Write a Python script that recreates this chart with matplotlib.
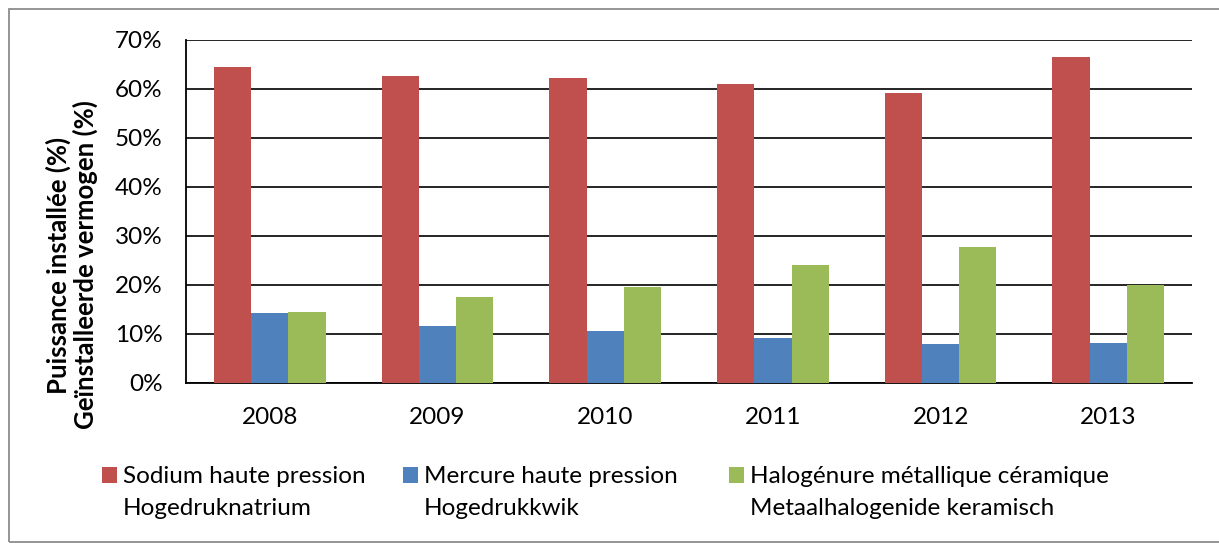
import matplotlib
matplotlib.use('Agg')
import matplotlib.pyplot as plt
import matplotlib.patches as patches
import numpy as np

# Data (% of installed power)
years = ['2008', '2009', '2010', '2011', '2012', '2013']
sodium = [64.5, 62.6, 62.1, 60.9, 59.1, 66.4]
mercure = [14.2, 11.6, 10.5, 9.2, 8.0, 8.2]
halogenure = [14.5, 17.6, 19.5, 24.1, 27.8, 20.0]

# legend labels: French line / Dutch line
labels_fr = ['Sodium haute pression', 'Mercure haute pression',
             'Halogénure métallique céramique']
labels_nl = ['Hogedruknatrium', 'Hogedrukkwik', 'Metaalhalogenide keramisch']
colors = ['#C0504D', '#4F81BD', '#9BBB59']

plt.rcParams['font.family'] = ['Lato', 'DejaVu Sans']
FS = 17.5

fig = plt.figure(figsize=(12.19, 5.43), dpi=100)
ax = fig.add_axes([0.1526, 0.2947, 0.8254, 0.6322])

# light grey frame around the chart (cut at the right edge like the reference)
fig.add_artist(patches.Rectangle((0.0074, 0.002), 1.0, 0.981, transform=fig.transFigure,
                                 fill=False, edgecolor='#8C8C8C', linewidth=1.3))

x = np.arange(len(years))
w = 0.222
bars = []
for i, (vals, c) in enumerate(zip([sodium, mercure, halogenure], colors)):
    bars.append(ax.bar(x + (i - 1) * w, vals, width=w, color=c, zorder=3))

ax.set_xlim(-0.5, len(years) - 0.5)
ax.set_ylim(0, 70)
ax.set_yticks(range(0, 71, 10))
ax.set_yticklabels([f'{v}%' for v in range(0, 71, 10)])
ax.set_xticks(x)
ax.set_xticklabels(years)
ax.yaxis.grid(True, color='black', linewidth=1.2, zorder=0)
ax.set_axisbelow(True)
for s in ['top', 'right']:
    ax.spines[s].set_visible(False)
for s in ['left', 'bottom']:
    ax.spines[s].set_linewidth(1.3)
ax.tick_params(axis='both', length=0, labelsize=FS)
ax.tick_params(axis='x', pad=17)
ax.tick_params(axis='y', pad=17)

fig.text(0.059, 0.512, 'Puissance installée (%)\nGeïnstalleerde vermogen (%)',
         rotation=90, ha='center', va='center', multialignment='center',
         fontsize=18.5, fontweight='bold', linespacing=1.05)

# one legend per series; the marker sits on the first line, the Dutch name below
blank = patches.Rectangle((0, 0), 1, 1, fill=False, edgecolor='none', visible=False)
leg_x = [0.0837, 0.3306, 0.598]
for b, fr, nl, lx in zip(bars, labels_fr, labels_nl, leg_x):
    fig.legend([b, blank], [fr, nl], loc='upper left', bbox_to_anchor=(lx, 0.141),
               frameon=False, fontsize=FS, handlelength=0.62, handleheight=0.62,
               handletextpad=0.25, labelspacing=0.45, borderaxespad=0, borderpad=0)

fig.savefig('out.png', dpi=100)
